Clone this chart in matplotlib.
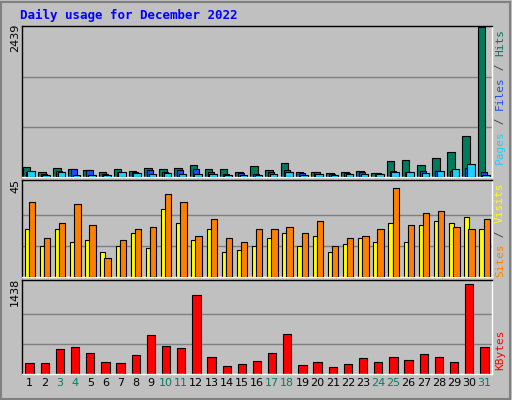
import matplotlib
matplotlib.use("Agg")
import matplotlib.pyplot as plt
import numpy as np

days = list(range(1, 32))
weekend = [3, 4, 10, 11, 17, 18, 24, 25, 31]
hits = [170, 88, 154, 137, 121, 88, 137, 104, 154, 137, 154, 203, 137, 137, 88, 187, 121, 236, 88, 88, 71, 88, 104, 71, 253, 285, 203, 318, 401, 670, 2439]
files = [88, 55, 104, 137, 121, 55, 88, 88, 121, 88, 121, 137, 88, 55, 71, 55, 88, 121, 71, 88, 55, 71, 88, 71, 104, 88, 104, 104, 104, 154, 88]
pages = [104, 38, 88, 38, 38, 38, 88, 71, 55, 71, 55, 55, 55, 38, 38, 38, 55, 88, 38, 55, 38, 55, 55, 55, 88, 88, 71, 104, 137, 220, 38]
visits = [36, 19, 26, 35, 25, 9, 18, 23, 24, 40, 36, 20, 28, 19, 17, 23, 23, 24, 21, 27, 15, 19, 20, 23, 43, 25, 31, 32, 24, 23, 28]
sites = [23, 15, 23, 17, 18, 12, 15, 21, 14, 33, 26, 18, 23, 12, 13, 15, 19, 21, 15, 20, 12, 16, 19, 17, 26, 17, 25, 27, 26, 29, 23]
kbytes = [178, 178, 397, 429, 335, 194, 178, 303, 617, 445, 413, 1260, 272, 131, 162, 209, 335, 633, 146, 194, 115, 162, 256, 194, 272, 225, 319, 272, 194, 1438, 429]

W, H = 512, 400
fig = plt.figure(figsize=(W/100, H/100), dpi=100)
fig.patch.set_facecolor("#c0c0c0")
fig.add_artist(plt.Rectangle((1/W, 1/H), 1-3/W, 1-3/H, transform=fig.transFigure, fill=False, edgecolor="#808080", lw=1.5))

x = np.array(days, dtype=float)
mono = "DejaVu Sans Mono"

def mkax(y0, y1):
    ax = fig.add_axes([22/W, 1-y1/H, (492-22)/W, (y1-y0)/H])
    ax.set_facecolor("#c0c0c0")
    ax.set_xlim(0.5, 31.5)
    ax.set_xticks([])
    ax.set_yticks([])
    for s in ax.spines.values():
        s.set_color("black")
        s.set_linewidth(1)
    ax.spines["right"].set_color("white")
    ax.spines["bottom"].set_color("white")
    return ax

ek = dict(edgecolor="black", linewidth=0.8)

ax1 = mkax(26, 177)
m1 = 2439
ax1.set_ylim(0, m1 * 1.01)
for f in (1/3, 2/3):
    ax1.axhline(m1 * f, color="#808080", lw=1, zorder=0)
ax1.bar(x - 0.2, hits, width=0.5, color="#007a5c", zorder=2, **ek)
ax1.bar(x - 0.05, files, width=0.4, color="#1e4fff", zorder=3, **ek)
ax1.bar(x + 0.1, pages, width=0.5, color="#1ecfff", zorder=4, **ek)

ax2 = mkax(180, 277)
m2 = 45
ax2.set_ylim(0, m2 * 1.04)
for f in (1/3, 2/3):
    ax2.axhline(m2 * f, color="#808080", lw=1, zorder=0)
ax2.bar(x - 0.18, sites, width=0.3, color="#ffff00", zorder=2, **ek)
ax2.bar(x + 0.15, visits, width=0.42, color="#ff8000", zorder=3, **ek)

ax3 = mkax(280, 374)
m3 = 1438
ax3.set_ylim(0, m3 * 1.04)
for f in (1/3, 2/3):
    ax3.axhline(m3 * f, color="#808080", lw=1, zorder=0)
ax3.bar(x, kbytes, width=0.55, color="#ff0000", zorder=2, **ek)
ax3.set_xticks(days)
ax3.set_xticklabels([str(d) for d in days], fontsize=8)
ax3.tick_params(axis="x", length=0, pad=3)
for lab, d in zip(ax3.get_xticklabels(), days):
    lab.set_color("#008060" if d in weekend else "black")

fig.text(20/W, 1-15/H, "Daily usage for December 2022", color="#0000ff", fontweight="bold", fontsize=9, family=mono, va="center")
for val, yy in ((m1, 38), (m2, 186), (m3, 292)):
    fig.text(15/W, 1-yy/H, str(val), rotation=90, fontsize=8, va="center", ha="center")

def rlabel(parts, ycenter):
    total = sum(len(p[0]) for p in parts)
    ch = 6.75
    y = ycenter + total * ch / 2
    for t, c in parts:
        fig.text(500/W, 1-y/H, t, rotation=90, fontsize=8, family=mono, color=c, va="bottom", ha="center")
        y -= len(t) * ch

rlabel([("Pages", "#1ecfff"), (" / ", "#444444"), ("Files", "#1e4fff"), (" / ", "#444444"), ("Hits", "#007a5c")], 97)
rlabel([("Sites", "#ff8000"), (" / ", "#444444"), ("Visits", "#ffff00")], 230)
rlabel([("KBytes", "#ff0000")], 350)

fig.savefig("out.png", dpi=100, facecolor=fig.get_facecolor())
